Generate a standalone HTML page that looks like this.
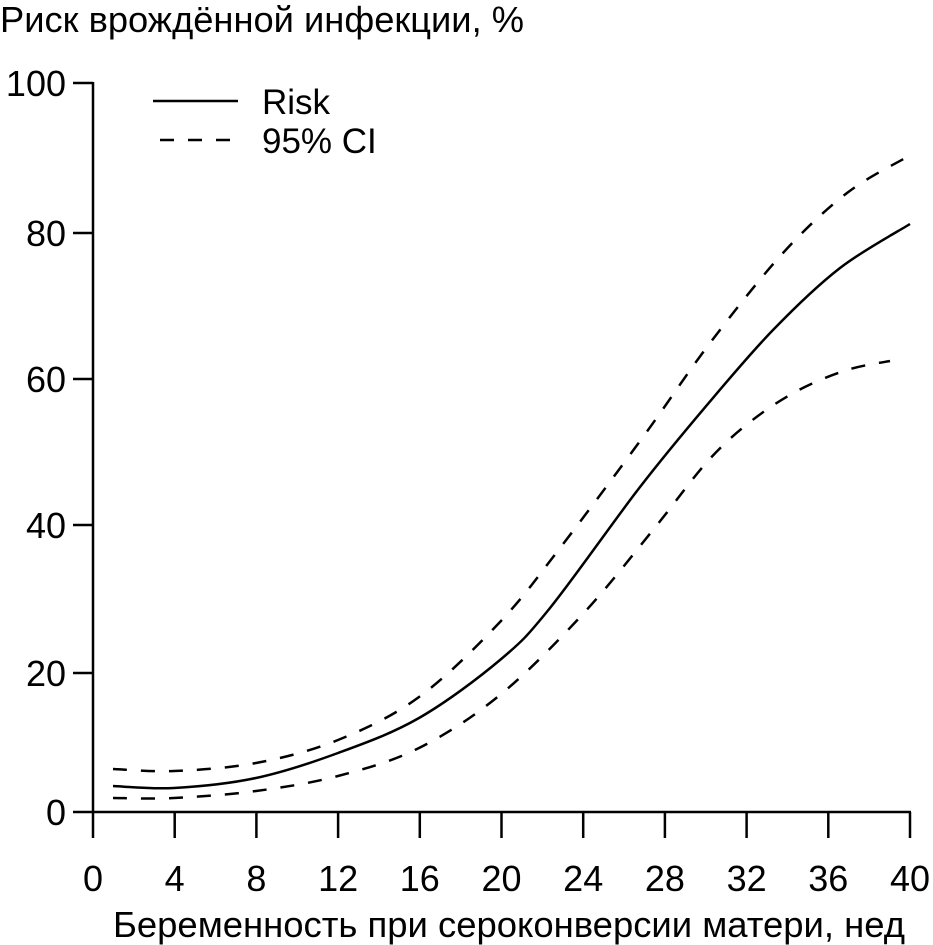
<!DOCTYPE html>
<html><head><meta charset="utf-8"><style>
html,body{margin:0;padding:0;background:#fff;}
svg{display:block;font-family:"Liberation Sans",Arial,sans-serif;}
</style></head><body>
<svg id="s" width="933" height="945" viewBox="0 0 933 945">
<text x="0" y="32" font-size="36" textLength="524" lengthAdjust="spacingAndGlyphs">Риск врождённой инфекции, %</text>
<g stroke="#000" stroke-width="2.5" fill="none">
<line x1="93" y1="82" x2="93" y2="813"/>
<line x1="92" y1="812" x2="911" y2="812"/>
<line x1="73" y1="83" x2="93" y2="83"/>
<line x1="73" y1="233" x2="93" y2="233"/>
<line x1="73" y1="379" x2="93" y2="379"/>
<line x1="73" y1="525" x2="93" y2="525"/>
<line x1="73" y1="673" x2="93" y2="673"/>
<line x1="73" y1="812" x2="93" y2="812"/>
</g>
<g id="xt" stroke="#000" stroke-width="2.5"></g>
<g font-size="36" text-anchor="end">
<text x="66" y="96">100</text><text x="66" y="246">80</text><text x="66" y="392">60</text>
<text x="66" y="538">40</text><text x="66" y="686">20</text><text x="66" y="825">0</text>
</g>
<g id="xl" font-size="36" text-anchor="middle"></g>
<text x="113" y="937" font-size="36" textLength="792" lengthAdjust="spacingAndGlyphs">Беременность при сероконверсии матери, нед</text>
<line x1="153" y1="101" x2="238" y2="101" stroke="#000" stroke-width="2.5"/>
<text x="262" y="114" font-size="35">Risk</text>
<line x1="160" y1="140" x2="240" y2="140" stroke="#000" stroke-width="2.5" stroke-dasharray="14,14"/>
<text x="262" y="153" font-size="35">95% CI</text>
<path id="r" fill="none" stroke="#000" stroke-width="2.5"/>
<path id="u" fill="none" stroke="#000" stroke-width="2.5" stroke-dasharray="14,14"/>
<path id="l" fill="none" stroke="#000" stroke-width="2.5" stroke-dasharray="14,14"/>
</svg>
<script>
var ns="http://www.w3.org/2000/svg";
for(var i=0;i<=10;i++){var x=93+i*81.7;
var t=document.createElementNS(ns,"line");t.setAttribute("x1",x);t.setAttribute("x2",x);t.setAttribute("y1",812);t.setAttribute("y2",838);document.getElementById("xt").appendChild(t);
var l=document.createElementNS(ns,"text");l.setAttribute("x",x);l.setAttribute("y",891);l.textContent=i*4;document.getElementById("xl").appendChild(l);}
function cr(p){var d="M"+p[0][0]+","+p[0][1];
for(var i=0;i<p.length-1;i++){var p0=p[i-1]||p[i],p1=p[i],p2=p[i+1],p3=p[i+2]||p2;
d+=" C"+(p1[0]+(p2[0]-p0[0])/6)+","+(p1[1]+(p2[1]-p0[1])/6)+" "+(p2[0]-(p3[0]-p1[0])/6)+","+(p2[1]-(p3[1]-p1[1])/6)+" "+p2[0]+","+p2[1];}
return d;}
document.getElementById("r").setAttribute("d",cr([[113,786],[174,788],[256,778],[338,753],[419,718],[500,660],[550,608],[640,487],[707,405],[773,330],[840,268],[910,224]]));
document.getElementById("u").setAttribute("d",cr([[113,769],[174,771],[256,763],[338,740],[419,697],[500,622],[560,548],[643,437],[710,343],[783,253],[847,193],[907,157]]));
document.getElementById("l").setAttribute("d",cr([[113,798],[174,798],[256,791],[338,776],[419,748],[500,695],[582,615],[653,530],[707,462],[750,422],[797,391],[847,370],[890,361]]));
</script>
</body></html>
